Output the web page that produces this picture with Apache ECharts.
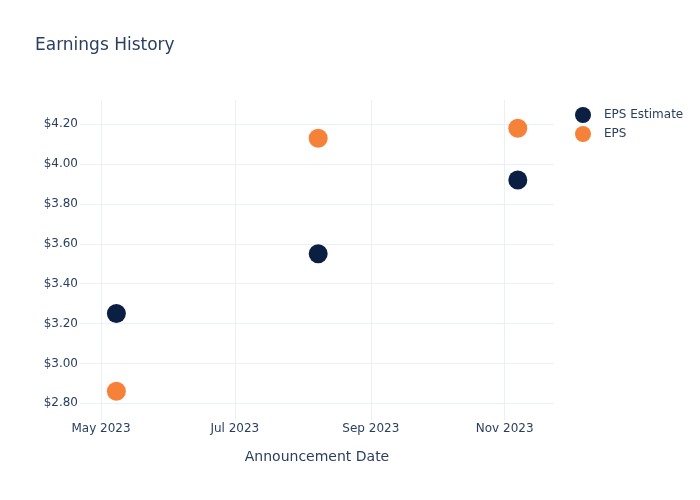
<!DOCTYPE html>
<html>
<head>
<meta charset="utf-8">
<script src="https://cdn.jsdelivr.net/npm/echarts@6/dist/echarts.min.js"></script>
<style>html,body{margin:0;padding:0;background:#fff}#c{width:700px;height:500px}</style>
</head>
<body>
<div id="c"></div>
<script>
const dates = ['2023-05-08', '2023-08-08', '2023-11-07'];
const epsEstimate = [3.25, 3.55, 3.92];
const eps = [2.86, 4.13, 4.18];
const xTicks = ['2023-05-01', '2023-07-01', '2023-09-01', '2023-11-01'];
const yTicks = [2.8, 3.0, 3.2, 3.4, 3.6, 3.8, 4.0, 4.2];
const xRange = ['2023-04-21T10:00', '2023-11-23T12:00'];
const yRange = [2.716, 4.3215];

function ts(s) {
  const p = s.split(/[-T:]/).map(Number);
  return Date.UTC(p[0], p[1] - 1, p[2], p[3] || 0, p[4] || 0);
}
const MONTHS = ['Jan','Feb','Mar','Apr','May','Jun','Jul','Aug','Sep','Oct','Nov','Dec'];
const txt = '#2a3f5f';
const font = 'DejaVu Sans';
const grid = '#ebf0f8';

const chart = echarts.init(document.getElementById('c'), null, {renderer: 'canvas'});
chart.setOption({
  backgroundColor: '#fff',
  animation: false,
  textStyle: {fontFamily: font},
  title: {
    text: 'Earnings History', left: 30, top: 32,
    textStyle: {fontFamily: font, fontSize: 17, fontWeight: 'normal', color: txt}
  },
  legend: {
    orient: 'vertical', left: 570, top: 102, itemGap: 3,
    icon: 'circle', itemWidth: 16, itemHeight: 16,
    textStyle: {fontFamily: font, fontSize: 12, color: txt, padding: [0, 0, 0, 8]},
    data: ['EPS Estimate', 'EPS']
  },
  grid: {left: 80, right: 146, top: 100, bottom: 80, containLabel: false},
  xAxis: {
    type: 'value',
    min: ts(xRange[0]), max: ts(xRange[1]),
    name: 'Announcement Date', nameLocation: 'middle', nameGap: 30,
    nameTextStyle: {fontFamily: font, fontSize: 14, color: txt},
    axisLine: {show: false},
    axisTick: {show: false, customValues: xTicks.map(ts)},
    axisLabel: {
      customValues: xTicks.map(ts), margin: 3,
      fontFamily: font, fontSize: 12, color: txt,
      formatter: v => { const d = new Date(v); return MONTHS[d.getUTCMonth()] + ' ' + d.getUTCFullYear(); }
    },
    splitLine: {show: true, lineStyle: {color: grid, width: 1}}
  },
  yAxis: {
    type: 'value',
    min: yRange[0], max: yRange[1],
    axisLine: {show: false},
    axisTick: {show: false, customValues: yTicks},
    axisLabel: {
      customValues: yTicks, margin: 2,
      fontFamily: font, fontSize: 12, color: txt,
      formatter: v => '$' + v.toFixed(2)
    },
    splitLine: {show: true, lineStyle: {color: grid, width: 1}}
  },
  series: [
    {
      name: 'EPS Estimate', type: 'scatter', symbolSize: 19,
      itemStyle: {color: '#0b1f42', opacity: 1},
      data: dates.map((d, i) => [ts(d), epsEstimate[i]])
    },
    {
      name: 'EPS', type: 'scatter', symbolSize: 19,
      itemStyle: {color: '#f6823a', opacity: 1},
      data: dates.map((d, i) => [ts(d), eps[i]])
    }
  ]
});
</script>
</body>
</html>
